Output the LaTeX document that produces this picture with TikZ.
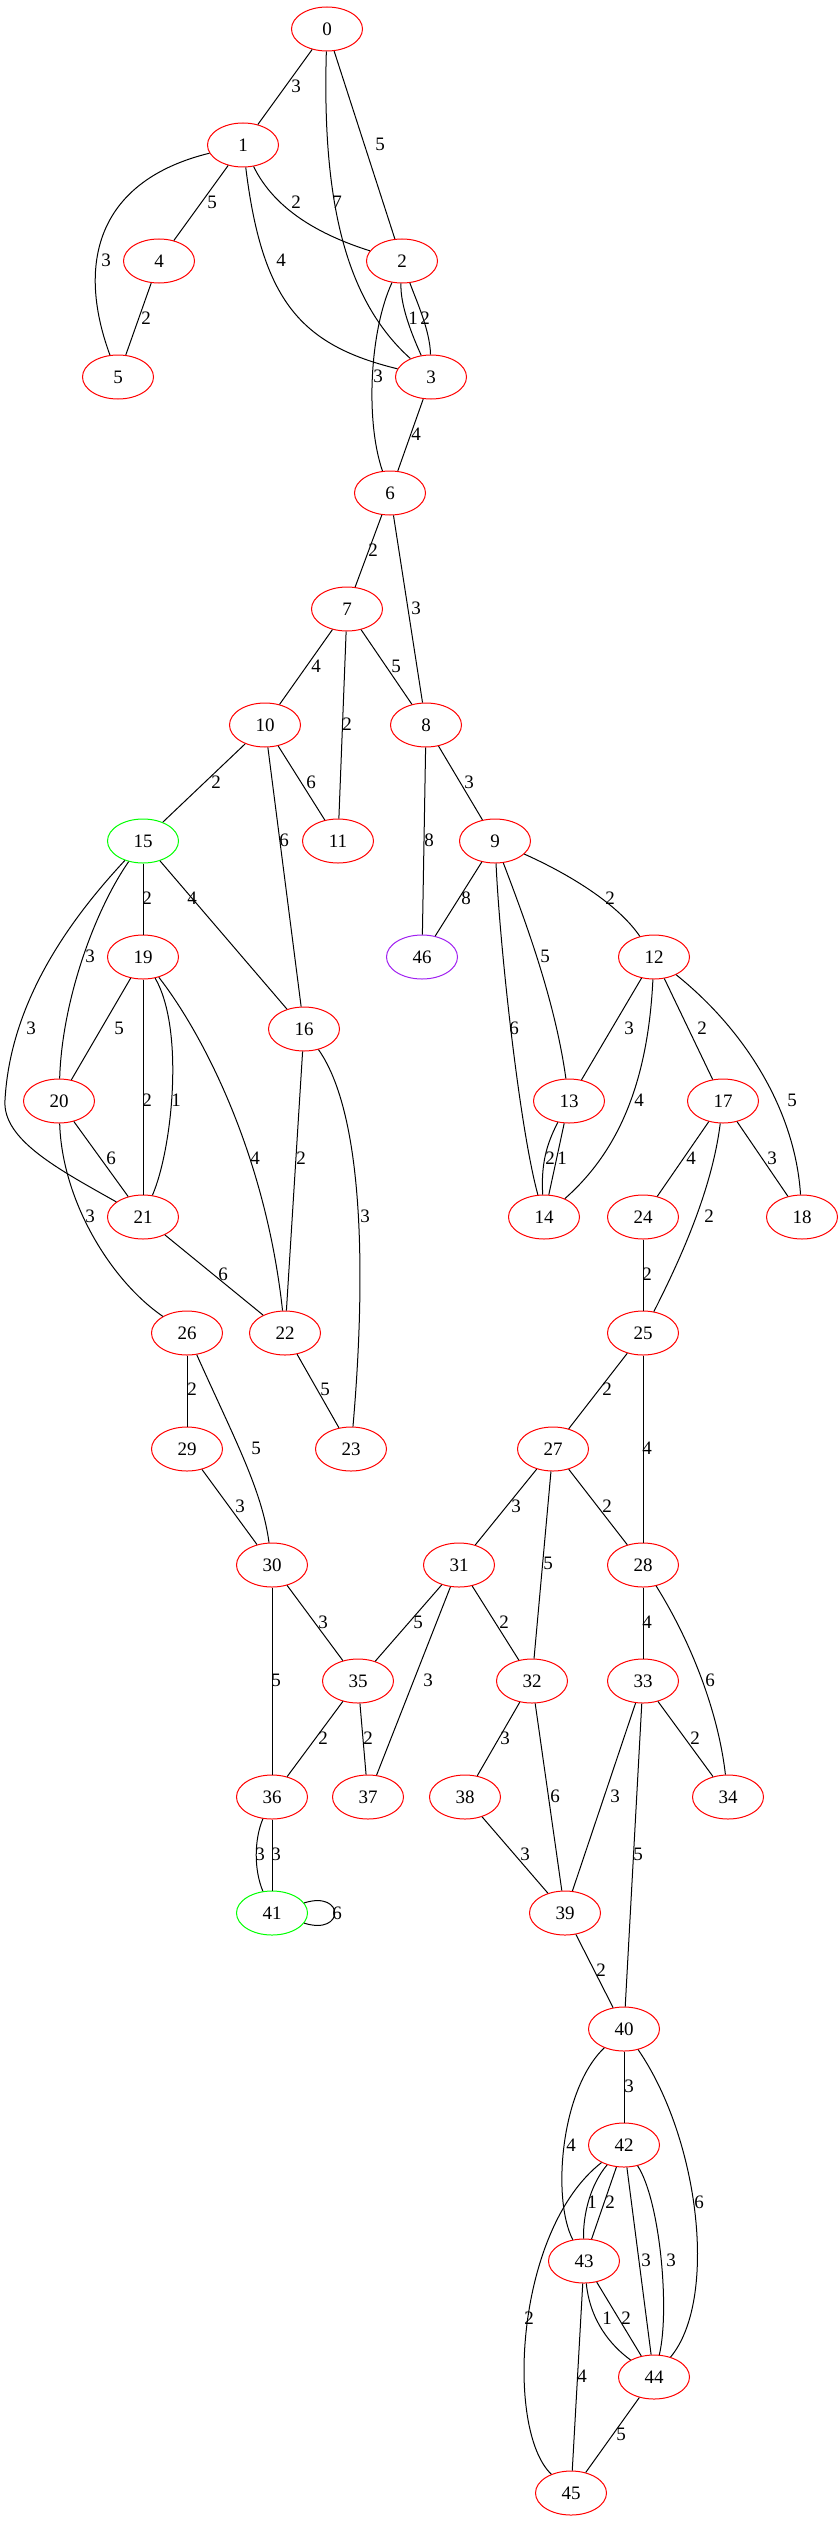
\documentclass[tikz,border=0pt]{standalone}
\usepackage{fontspec}
\setmainfont{Liberation Serif}
\usepackage{tikz}
\usetikzlibrary{shapes.geometric}
\definecolor{gvpurple}{HTML}{A020F0}
\tikzset{
  vtx/.style={ellipse, draw=red, line width=1pt, minimum width=71pt, minimum height=44pt, inner sep=0pt, font=\fontsize{19}{20}\selectfont},
  lnk/.style={line width=1pt, black},
  wlab/.style={inner sep=0pt, font=\fontsize{19}{20}\selectfont}
}
\newcommand{\vtx}[3][red]{\node[vtx,draw=#1] (v#2) at (#3) {#2};}
\newcommand{\lnk}[4]{\draw[lnk] (v#1) -- (v#2) node[wlab] at (#4) {#3};}
\newcommand{\clnk}[6]{\draw[lnk] (v#1) .. controls (#3) and (#4) .. (v#2) node[wlab] at (#6) {#5};}

\begin{document}
\begin{tikzpicture}[x=1pt,y=-1pt]
        \useasboundingbox (0,0) rectangle (840,2523);
        % vertices, top part
        \vtx{0}{327,29}
        \vtx{1}{243,145}
        \vtx{2}{402,261}
        \vtx{3}{431,377}
        \vtx{4}{159,261}
        \vtx{5}{118,377}
        \vtx{6}{390,493}
        \vtx{7}{347,609}
        \vtx{8}{426,725}
        \vtx{9}{495,841}
        \vtx{10}{265,725}
        \vtx{11}{338,841}
        \vtx{12}{654,957}
        \vtx{13}{569,1101}
        \vtx{14}{544,1217}
        \vtx[green]{15}{143,841}
        \vtx{16}{304,1029}
        \vtx{17}{723,1101}
        \vtx{18}{802,1217}
        \vtx{19}{143,957}
        \vtx{20}{59,1101}
        \vtx{21}{143,1217}
        \vtx{22}{285,1333}
        \vtx{23}{351,1449}
        \vtx{24}{643,1217}
        \vtx{25}{643,1333}
        \vtx{26}{187,1333}
        \vtx{27}{553,1449}
        % vertices, bottom part
        \vtx{28}{643,1565}
        \vtx{29}{187,1449}
        \vtx{30}{272,1565}
        \vtx{31}{459,1565}
        \vtx{32}{532,1681}
        \vtx{33}{643,1681}
        \vtx{34}{728,1797}
        \vtx{35}{358,1681}
        \vtx{36}{272,1797}
        \vtx{37}{368,1797}
        \vtx{38}{465,1797}
        \vtx{39}{565,1913}
        \vtx{40}{624,2029}
        \vtx[green]{41}{272,1913}
        \vtx{42}{624,2145}
        \vtx{43}{584,2261}
        \vtx{44}{654,2377}
        \vtx{45}{571,2493}
        \vtx[gvpurple]{46}{422,957}
        % edges 0 - 6
        \lnk{0}{1}{3}{296,86}
        \lnk{0}{2}{5}{380,144}
        \clnk{0}{3}{322,200}{345,300}{7}{337,202}
        \clnk{1}{2}{275,210}{320,235}{2}{296,202}
        \lnk{1}{4}{5}{212,202}
        \clnk{1}{5}{100,180}{75,260}{3}{106,260}
        \clnk{1}{3}{262,300}{300,345}{4}{281,260}
        \lnk{4}{5}{2}{146,318}
        \clnk{2}{3}{400,305}{412,335}{1}{413,318}
        \clnk{2}{3}{416,300}{430,330}{2}{425,318}
        \clnk{2}{6}{370,330}{365,420}{3}{378,376}
        \lnk{3}{6}{4}{416,434}
        % edges 6 - 16
        \lnk{6}{7}{2}{373,550}
        \lnk{6}{8}{3}{416,608}
        \lnk{7}{10}{4}{316,666}
        \lnk{7}{11}{2}{347,724}
        \lnk{7}{8}{5}{396,666}
        \lnk{10}{15}{2}{216,782}
        \lnk{10}{11}{6}{311,782}
        \lnk{10}{16}{6}{284,840}
        \lnk{8}{9}{3}{469,782}
        \lnk{8}{46}{8}{429,840}
        \lnk{9}{46}{8}{466,898}
        \clnk{9}{12}{560,870}{615,900}{2}{610,898}
        \clnk{9}{14}{500,950}{520,1130}{6}{514,1028}
        \clnk{9}{13}{525,920}{555,1000}{5}{545,956}
        \lnk{15}{19}{2}{147,898}
        \lnk{15}{16}{4}{192,898}
        \clnk{15}{20}{95,910}{62,1000}{3}{90,956}
        \draw[lnk] (v15) .. controls (60,930) and (10,1010) .. (5,1100) .. controls (2,1140) and (60,1170) .. (v21) node[wlab] at (31,1028) {3};
        % edges 19 - 29
        \lnk{19}{20}{5}{119,1028}
        \lnk{19}{21}{2}{147,1100}
        \clnk{19}{21}{185,1030}{172,1150}{1}{176,1100}
        \clnk{19}{22}{200,1030}{265,1150}{4}{255,1158}
        \lnk{16}{22}{2}{301,1158}
        \clnk{16}{23}{368,1120}{364,1300}{3}{365,1216}
        \lnk{12}{13}{3}{629,1028}
        \clnk{12}{14}{648,1080}{620,1150}{4}{639,1100}
        \lnk{12}{17}{2}{702,1028}
        \clnk{12}{18}{745,1030}{795,1110}{5}{792,1100}
        \clnk{13}{14}{546,1145}{541,1165}{2}{550,1158}
        \lnk{13}{14}{1}{562,1158}
        \lnk{17}{24}{4}{691,1158}
        \lnk{17}{18}{3}{772,1158}
        \clnk{17}{25}{712,1190}{680,1260}{2}{709,1216}
        \lnk{20}{21}{6}{111,1158}
        \clnk{20}{26}{62,1200}{110,1280}{3}{90,1216}
        \lnk{21}{22}{6}{223,1274}
        \lnk{24}{25}{2}{647,1274}
        \lnk{26}{29}{2}{192,1389}
        \clnk{26}{30}{235,1440}{262,1490}{5}{256,1448}
        \lnk{22}{23}{5}{325,1389}
        \lnk{25}{27}{2}{607,1389}
        \lnk{25}{28}{4}{647,1448}
        % edges 29 - 41
        \lnk{29}{30}{3}{240,1506}
        \lnk{27}{31}{3}{516,1506}
        \lnk{27}{32}{5}{548,1563}
        \lnk{27}{28}{2}{607,1506}
        \lnk{30}{35}{3}{323,1622}
        \lnk{30}{36}{5}{276,1680}
        \lnk{31}{35}{5}{418,1622}
        \lnk{31}{37}{3}{428,1680}
        \lnk{31}{32}{2}{504,1622}
        \lnk{28}{33}{4}{647,1622}
        \clnk{28}{34}{690,1640}{718,1710}{6}{710,1680}
        \lnk{35}{36}{2}{323,1738}
        \lnk{35}{37}{2}{368,1738}
        \lnk{32}{38}{3}{505,1738}
        \lnk{32}{39}{6}{555,1796}
        \lnk{33}{39}{3}{615,1796}
        \lnk{33}{34}{2}{695,1738}
        \lnk{33}{40}{5}{638,1854}
        \lnk{36}{41}{3}{276,1854}
        \clnk{36}{41}{254,1840}{254,1870}{3}{260,1854}
        \clnk{41}{41}{345,1890}{345,1936}{6}{337,1913}
        \lnk{38}{39}{3}{525,1854}
        \lnk{39}{40}{2}{601,1970}
        % edges 40 - 45
        \lnk{40}{42}{3}{629,2086}
        \clnk{40}{43}{560,2090}{552,2200}{4}{571,2145}
        \clnk{40}{44}{700,2140}{718,2300}{6}{699,2202}
        \clnk{42}{43}{590,2185}{583,2215}{1}{592,2202}
        \lnk{42}{43}{2}{610,2202}
        \lnk{42}{44}{3}{646,2260}
        \clnk{42}{44}{660,2200}{670,2310}{3}{671,2260}
        \clnk{42}{45}{515,2230}{505,2430}{2}{529,2318}
        \clnk{43}{44}{590,2320}{610,2345}{1}{607,2318}
        \lnk{43}{44}{2}{626,2318}
        \lnk{43}{45}{4}{582,2376}
        \lnk{44}{45}{5}{621,2434}
\end{tikzpicture}
\end{document}
